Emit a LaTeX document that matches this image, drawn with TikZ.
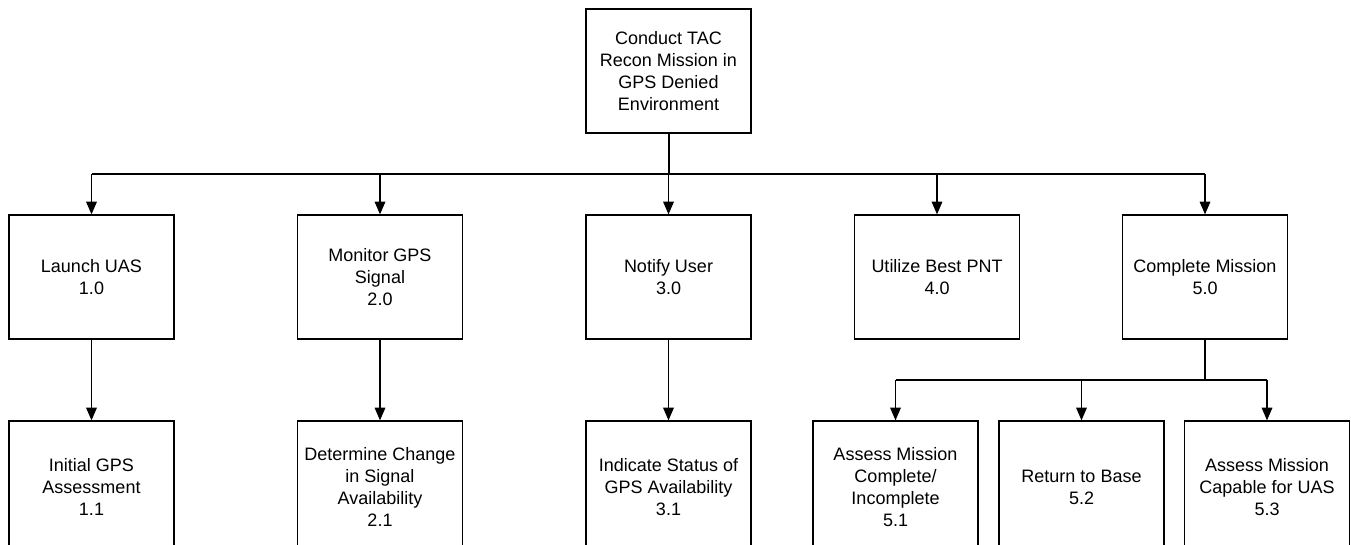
\documentclass[tikz,border=0pt]{standalone}
\usepackage{fontspec}
\setmainfont{Liberation Sans}
\usetikzlibrary{arrows.meta}
\tikzset{
  box/.style={draw=black, line width=1pt, fill=white, minimum width=123.75pt, minimum height=93pt,
    inner sep=0pt, align=center, font=\fontsize{13.5}{16.5}\selectfont},
  lowbox/.style={box, minimum height=99pt},
  arr/.style={line width=0.8pt, -{Triangle[length=9.5pt,width=8pt]}},
  link/.style={line width=0.8pt},
  trunk/.style={line width=1.5pt}
}
\begin{document}
\begin{tikzpicture}[x=0.75pt,y=-0.75pt]
\useasboundingbox (0,0) rectangle (1351,544);
\clip (0,0) rectangle (1351,544);
\fill[white] (0,0) rectangle (1351,544);
\node[box] (top) at (668.5,71) {Conduct TAC\\Recon Mission in\\GPS Denied\\Environment};
\node[box] (n1) at (91.5,277) {Launch UAS\\1.0};
\node[box] (n2) at (380,277) {Monitor GPS\\Signal\\2.0};
\node[box] (n3) at (668.5,277) {Notify User\\3.0};
\node[box] (n4) at (937,277) {Utilize Best PNT\\4.0};
\node[box] (n5) at (1205,277) {Complete Mission\\5.0};
\node[lowbox] (n11) at (91.5,487) {Initial GPS\\Assessment\\1.1};
\node[lowbox] (n21) at (380,487) {Determine Change\\in Signal\\Availability\\2.1};
\node[lowbox] (n31) at (668.5,487) {Indicate Status of\\GPS Availability\\3.1};
\node[lowbox] (n51) at (895.5,487) {Assess Mission\\Complete/\\Incomplete\\5.1};
\node[lowbox] (n52) at (1081.5,487) {Return to Base\\5.2};
\node[lowbox] (n53) at (1267,487) {Assess Mission\\Capable for UAS\\5.3};
\coordinate (bus) at (0,174);
\coordinate (bus5) at (0,380);
% main trunk
\draw[trunk] (top.south) -- (top.south |- bus);
\draw[trunk] (n1.north |- bus) -- (n5.north |- bus);
\foreach \n in {n1,n2,n3,n4,n5} \draw[arr] (\n.north |- bus) -- (\n.north);
% level-2 links
\draw[arr] (n1.south) -- (n11.north);
\draw[arr] (n2.south) -- (n21.north);
\draw[arr] (n3.south) -- (n31.north);
\draw[link] (n5.south) -- (n5.south |- bus5);
\draw[link] (n51.north |- bus5) -- (n53.north |- bus5);
\foreach \n in {n51,n52,n53} \draw[arr] (\n.north |- bus5) -- (\n.north);
\end{tikzpicture}
\end{document}
